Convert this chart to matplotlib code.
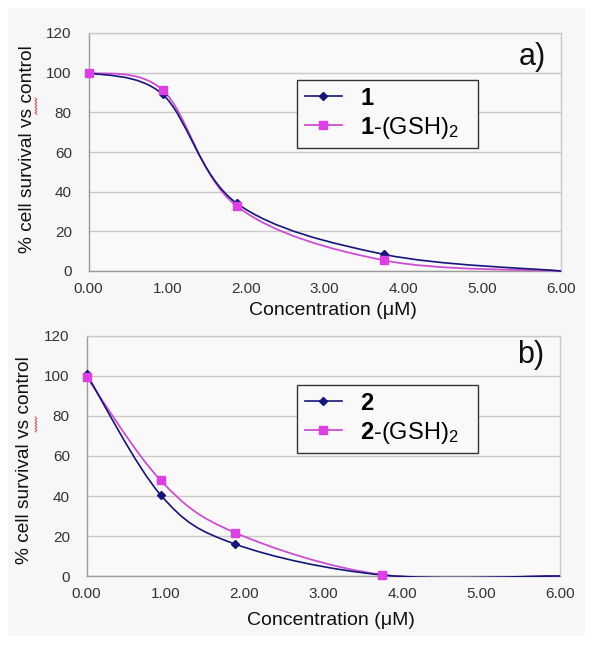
import numpy as np
import matplotlib
matplotlib.use('Agg')
import matplotlib.pyplot as plt
from matplotlib.path import Path
from matplotlib.patches import PathPatch, Rectangle
from matplotlib.lines import Line2D

plt.rcParams['font.family'] = ['Liberation Sans', 'DejaVu Sans']
plt.rcParams['mathtext.fontset'] = 'custom'
plt.rcParams['mathtext.rm'] = 'Liberation Sans'
plt.rcParams['mathtext.bf'] = 'Liberation Sans:bold'
plt.rcParams['mathtext.it'] = 'Liberation Sans:italic'

# ---------------- data ----------------
conc = [0.0, 0.94, 1.88, 3.75, 6.0]
a_cpd1 = [100.0, 89.1, 34.2, 8.4, 0.0]
a_cpd1_gsh = [100.0, 91.3, 32.8, 5.4, 0.0]
b_cpd2 = [101.0, 40.5, 16.0, 0.5, 0.0]
b_cpd2_gsh = [99.5, 47.8, 21.7, 0.6, 0.0]
labels_a = [r'$\mathbf{1}$', r'$\mathbf{1}$-(GSH)$_2$']
labels_b = [r'$\mathbf{2}$', r'$\mathbf{2}$-(GSH)$_2$']
panel_tags = ['a)', 'b)']
x_ticks = [0, 1, 2, 3, 4, 5, 6]
x_tick_labels = ['0.00', '1.00', '2.00', '3.00', '4.00', '5.00', '6.00']
y_ticks = [0, 20, 40, 60, 80, 100, 120]
xlabel = 'Concentration (\u03bcM)'
ylabel = '% cell survival vs control'

NAVY = '#15157a'
MAG_LINE = '#cc4fd2'
MAG_MARK = '#dd3ee6'


def smooth_path(xs, ys):
    """Excel-like smoothed line (Catmull-Rom style cubic Bezier)."""
    pts = np.column_stack([xs, ys]).astype(float)
    n = len(pts)
    verts = [pts[0]]
    codes = [Path.MOVETO]
    for i in range(n - 1):
        p0 = pts[i - 1] if i > 0 else pts[i]
        p1 = pts[i]
        p2 = pts[i + 1]
        p3 = pts[i + 2] if i + 2 < n else pts[i + 1]
        c1 = p1 + (p2 - p0) / 6.0
        c2 = p2 - (p3 - p1) / 6.0
        verts += [c1, c2, p2]
        codes += [Path.CURVE4] * 3
    return Path(verts, codes)


W, H = 596, 646
fig = plt.figure(figsize=(W / 100, H / 100), dpi=100, facecolor='white')
fig.add_artist(Rectangle((8 / W, 1 - 636 / H), 577 / W, 628 / H,
                         transform=fig.transFigure, facecolor='#f7f7f7',
                         edgecolor='none', zorder=-10))

# axes geometry in pixels: left, right, top, bottom
geoms = [(88.5, 561, 33, 271), (86.5, 560, 336, 576)]
series = [(a_cpd1, a_cpd1_gsh, labels_a), (b_cpd2, b_cpd2_gsh, labels_b)]
ylab_y = [0.513, 0.483]
xlab_y = [-0.165, -0.185]
tag_y = [0.899, 0.921]
leg_px = [(297, 478, 80), (297, 478, 385)]  # left, right, top in pixels

for k in range(2):
    l, r, t, b = geoms[k]
    ax = fig.add_axes([l / W, 1 - b / H, (r - l) / W, (b - t) / H])
    ax.set_facecolor('#f9f9f9')
    ax.set_xlim(0, 6)
    ax.set_ylim(0, 120)
    ax.set_xticks(x_ticks)
    ax.set_xticklabels(x_tick_labels)
    ax.set_yticks(y_ticks)
    ax.tick_params(length=0, labelsize=11, labelcolor='#333333')
    ax.tick_params(axis='y', pad=12)
    ax.tick_params(axis='x', pad=8)
    ax.grid(axis='y', color='#c9c9c9', lw=1.0)
    ax.set_axisbelow(True)
    for s in ['top', 'right']:
        ax.spines[s].set_color('#c9c9c9')
        ax.spines[s].set_linewidth(1.0)
    for s in ['left', 'bottom']:
        ax.spines[s].set_color('#9a9a9a')
        ax.spines[s].set_linewidth(1.0)

    d1, d2, labs = series[k]
    clip = Rectangle((-0.1, -0.6), 6.25, 130, transform=ax.transData,
                     facecolor='none', edgecolor='none')
    ax.add_patch(clip)
    for vals, col, lw in [(d2, MAG_LINE, 1.3), (d1, NAVY, 1.2)]:
        pp = PathPatch(smooth_path(conc, vals), fill=False,
                       edgecolor=col, lw=lw, zorder=3)
        ax.add_patch(pp)
        pp.set_clip_path(clip)
    ax.plot(conc[:4], d1[:4], ls='none', marker='D', ms=4, color=NAVY,
            zorder=4, clip_on=False)
    ax.plot(conc[:4], d2[:4], ls='none', marker='s', ms=5.2, color=MAG_MARK,
            zorder=5, clip_on=False)

    handles = [Line2D([], [], color=NAVY, lw=1.2, marker='D', ms=4),
               Line2D([], [], color=MAG_LINE, lw=1.3, marker='s', ms=5.2,
                      markerfacecolor=MAG_MARK, markeredgecolor=MAG_MARK)]
    lx0, lx1, ly0 = leg_px[k]
    ax_w = r - l
    ax_h = b - t
    anchor = ((lx0 - l) / ax_w, (b - ly0) / ax_h - 0.01, (lx1 - lx0) / ax_w, 0.01)
    leg = ax.legend(handles, labs, loc='upper left', mode='expand',
                    bbox_to_anchor=anchor, borderaxespad=0,
                    fontsize=17, frameon=True, fancybox=False,
                    handlelength=1.6, handletextpad=0.75, labelspacing=0.22,
                    borderpad=0.32)
    leg.get_frame().set_edgecolor('#333333')
    leg.get_frame().set_facecolor('#f9f9f9')
    leg.get_frame().set_linewidth(1.0)
    leg.get_frame().set_alpha(1)

    ax.text(0.939, tag_y[k], panel_tags[k], transform=ax.transAxes,
            ha='center', va='center', fontsize=22, color='#111111')

    ax.set_xlabel(xlabel, fontsize=14, color='#111111')
    ax.xaxis.set_label_coords(0.517, xlab_y[k])
    ax.xaxis.label.set_va('center')
    ax.set_ylabel(ylabel, fontsize=13.8, color='#111111')
    ax.yaxis.set_label_coords(-0.130, ylab_y[k])
    ax.yaxis.label.set_va('center')

# red spell-check squiggles under "vs"
for y0, y1 in [(98, 115), (417, 433)]:
    ys = np.arange(y0, y1 + 0.1, 1.5)
    xs = np.where(np.arange(len(ys)) % 2 == 0, 35.0, 37.0)
    fig.add_artist(Line2D(xs / W, 1 - ys / H, transform=fig.transFigure,
                          color='#c85a5a', lw=0.7))

fig.savefig('out.png', dpi=100, facecolor='white')
